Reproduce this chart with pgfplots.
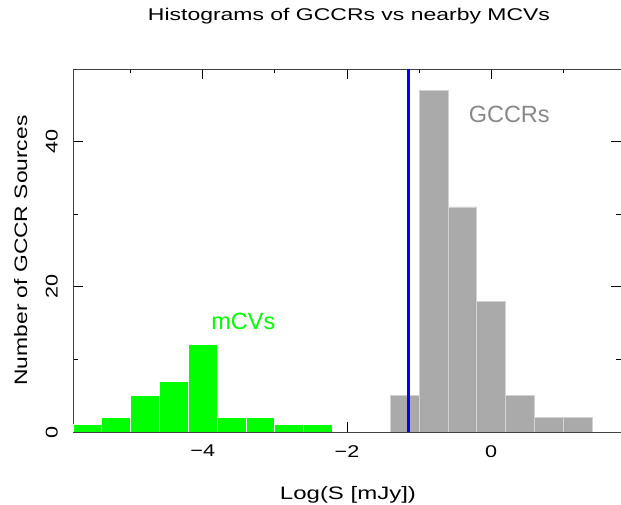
\documentclass[border=0pt]{standalone}
\usepackage{fontspec}
\setmainfont{Liberation Sans}
\newfontfamily\hfont{Liberation Sans}[FakeStretch=1.27]
\usepackage{pgfplots}
\pgfplotsset{compat=1.18}
\definecolor{bargreen}{HTML}{00FF00}
\definecolor{bargray}{HTML}{AAAAAA}
\definecolor{baredge}{HTML}{D2D2D2}
\definecolor{txtgray}{HTML}{888888}
\begin{document}
\begin{tikzpicture}
\useasboundingbox (0,0) rectangle (621pt,505pt);
\begin{axis}[
  at={(73pt,73pt)}, anchor=south west,
  scale only axis, width=548pt, height=363pt,
  xmin=-5.8, xmax=1.8, ymin=0, ymax=50,
  xtick={-4,-2,0}, xticklabels={−4,−2,0},
  minor xtick={-5,-3,-1,1},
  ytick={0,20,40}, yticklabels={0,20,40},
  minor ytick={10,30},
  major tick length=10pt, minor tick length=4.5pt,
  tick style={black, line width=0.8pt},
  axis line style={black!75, line width=0.9pt},
  ticklabel style={font=\hfont\fontsize{17}{17}\selectfont, inner sep=0pt},
  xticklabel style={anchor=north},
  xticklabel shift=13pt,
  yticklabel style={rotate=90, anchor=south},
  yticklabel shift=15pt,
  title={\resizebox{402pt}{\height}{\hfont\fontsize{17}{17}\selectfont Histograms of GCCRs vs nearby MCVs}},
  title style={at={(axis description cs:0.5036,1.1157)}, anchor=base, inner sep=0pt},
  xlabel={\resizebox{136pt}{\height}{\hfont\fontsize{18}{18}\selectfont Log(S [mJy])}},
  xlabel style={at={(axis description cs:0.5018,-0.1846)}, anchor=base, inner sep=0pt},
  ylabel={\resizebox{270pt}{\height}{\hfont\fontsize{18}{18}\selectfont Number of GCCR Sources}},
  ylabel style={at={(axis description cs:-0.0839,0.5)}, anchor=base, inner sep=0pt},
]
\addplot[ybar interval, fill=bargreen, draw=white, line width=0.8pt] coordinates {
  (-5.8,1) (-5.4,2) (-5.0,5) (-4.6,7) (-4.2,12) (-3.8,2) (-3.4,2) (-3.0,1) (-2.6,1) (-2.2,1)};
\addplot[ybar interval, fill=bargray, draw=baredge, line width=0.8pt] coordinates {
  (-1.4,5) (-1.0,47) (-0.6,31) (-0.2,18) (0.2,5) (0.6,2) (1.0,2) (1.4,2)};
\addplot[color=blue, line width=3pt] coordinates {(-1.15,0) (-1.15,50)};
\node[text=txtgray, font=\fontsize{23.5}{23.5}\selectfont] at (axis cs:0.25,43.7) {GCCRs};
\node[text=bargreen, font=\fontsize{23.5}{23.5}\selectfont] at (axis cs:-3.4375,15.2) {mCVs};
\end{axis}
\end{tikzpicture}
\end{document}
